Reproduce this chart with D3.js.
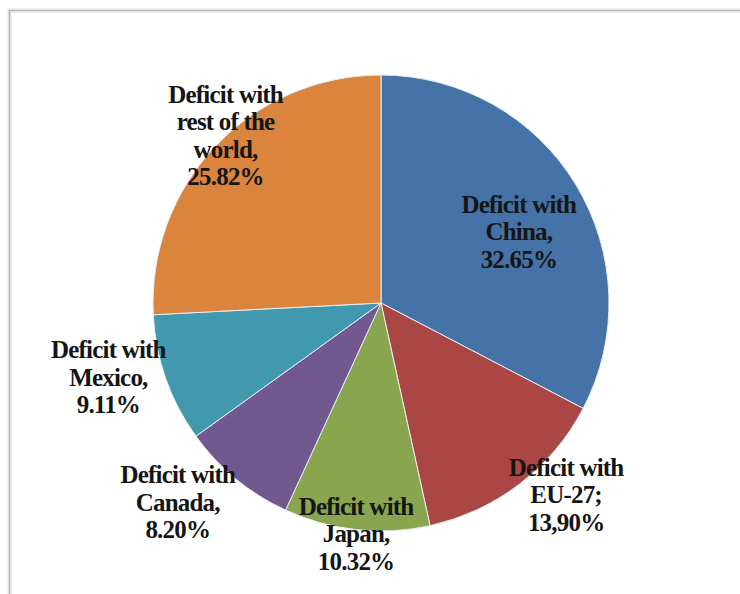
<!DOCTYPE html>
<html>
<head>
<meta charset="utf-8">
<script src="https://cdn.jsdelivr.net/npm/d3@7"></script>
<style>
  html, body { margin: 0; padding: 0; background: #fff; }
  svg { display: block; }
</style>
</head>
<body>
<div id="chart"></div>
<script>
// Trade deficit shares (percent), clockwise from 12 o'clock
const partners = ["China", "EU-27", "Japan", "Canada", "Mexico", "rest of the world"];
const shares = [32.65, 13.90, 10.32, 8.20, 9.11, 25.82];
const labelLines = [
  ["Deficit with", "China,", "32.65%"],
  ["Deficit with", "EU-27;", "13,90%"],
  ["Deficit with", "Japan,", "10.32%"],
  ["Deficit with", "Canada,", "8.20%"],
  ["Deficit with", "Mexico,", "9.11%"],
  ["Deficit with", "rest of the", "world,", "25.82%"]
];
const colors = ["#4572A7", "#AA4643", "#89A54E", "#71588F", "#4198AF", "#DB843D"];

// label placement: distance in radii from centre, angle nudge in degrees
const labelRadius = [0.68, 1.17, 1.02, 1.25, 1.24, 1.0];
const labelNudge = [4, -6.5, 0, 6, 4, 3.5];

const width = 740, height = 594;
const cx = 381, cy = 303, radius = 228;
const lineH = 27.5;

const svg = d3.select("#chart").append("svg")
  .attr("width", width)
  .attr("height", height)
  .attr("viewBox", [0, 0, width, height]);

// chart frame (only top and left edges visible)
svg.append("path")
  .attr("d", `M9.5,${height}V10.5H${width}`)
  .attr("fill", "none")
  .attr("stroke", "#e4e4e4")
  .attr("stroke-width", 4);
svg.append("path")
  .attr("d", `M9.5,${height}V10.5H${width}`)
  .attr("fill", "none")
  .attr("stroke", "#b5b5b5")
  .attr("stroke-width", 1.2);

const data = partners.map((p, i) => ({ partner: p, value: shares[i], lines: labelLines[i], i }));

const pie = d3.pie().sort(null).value(d => d.value);
const arcs = pie(data);
const arc = d3.arc().innerRadius(0).outerRadius(radius);

const g = svg.append("g").attr("transform", `translate(${cx},${cy})`);

g.selectAll("path.slice")
  .data(arcs)
  .join("path")
  .attr("class", "slice")
  .attr("d", arc)
  .attr("fill", d => colors[d.data.i])
  .attr("stroke", "#e8eef4")
  .attr("stroke-width", 1);

const labels = g.selectAll("text.lbl")
  .data(arcs)
  .join("text")
  .attr("class", "lbl")
  .attr("text-anchor", "middle")
  .attr("font-family", "'Liberation Serif', 'Times New Roman', serif")
  .attr("font-weight", "bold")
  .attr("font-size", 25)
  .attr("letter-spacing", -0.8)
  .attr("fill", "#151515")
  .attr("transform", d => {
    const a = (d.startAngle + d.endAngle) / 2 + labelNudge[d.data.i] * Math.PI / 180;
    const r = radius * labelRadius[d.data.i];
    return `translate(${r * Math.sin(a)},${-r * Math.cos(a)})`;
  });

labels.each(function(d) {
  const n = d.data.lines.length;
  d3.select(this).selectAll("tspan")
    .data(d.data.lines)
    .join("tspan")
    .attr("x", 0)
    .attr("y", (t, j) => (j - (n - 1) / 2) * lineH + 8)
    .text(t => t);
});
</script>
</body>
</html>
